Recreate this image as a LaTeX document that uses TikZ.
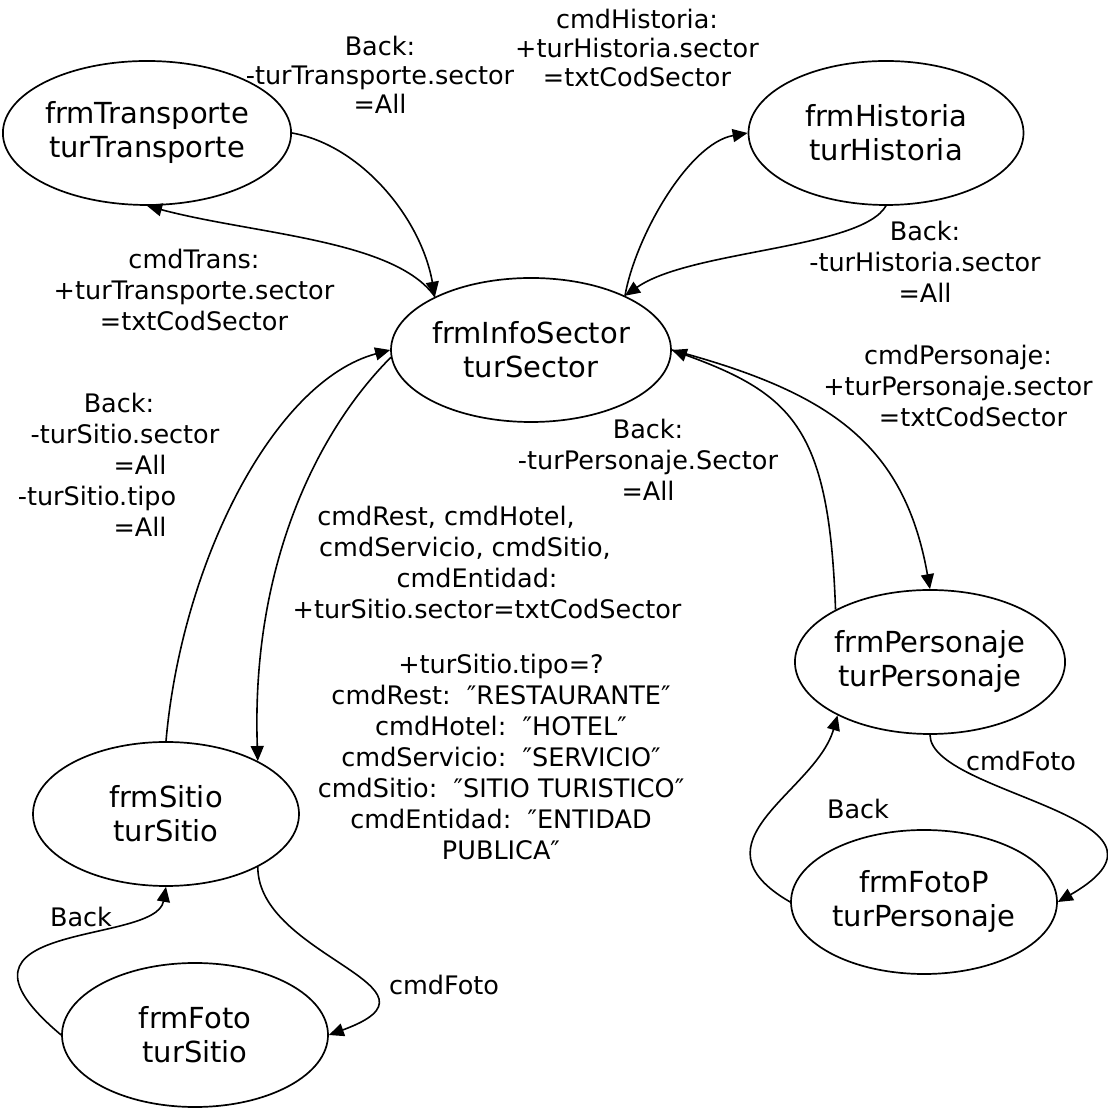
\documentclass[tikz,border=0pt]{standalone}
\usepackage{fontspec}
\setmainfont{DejaVu Sans}
\usetikzlibrary{arrows.meta,shapes.geometric}
% empty box used to nudge a centred line sideways
\newcommand{\padL}[1]{\makebox[#1]{}}
\begin{document}
\begin{tikzpicture}[x=1pt,y=1pt,
  state/.style={draw, ellipse, line width=1.7pt, minimum width=266pt,
    minimum height=144pt, inner sep=0pt, align=center,
    font=\fontsize{29}{34}\selectfont},
  lbl/.style={inner sep=0pt, align=center, font=\fontsize{25.5}{31}\selectfont},
  lbltop/.style={lbl, font=\fontsize{25.5}{29}\selectfont},
  conn/.style={line width=1.6pt, -{Triangle[length=15pt,width=13pt]}},
]
\useasboundingbox (0,0) rectangle (1108,1108);

% forms
\node[state] (tra) at (147,975) {frmTransporte\\turTransporte};
\node[state, minimum width=275pt] (his) at (886,975) {frmHistoria\\turHistoria};
\node[state] (inf) at (531,758) {frmInfoSector\\turSector};
\node[state] (sit) at (166,294) {frmSitio\\turSitio};
\node[state] (fot) at (195,73) {frmFoto\\turSitio};
\node[state] (per) at (930,446) {frmPersonaje\\turPersonaje};
\node[state] (fop) at (924,206) {frmFotoP\\turPersonaje};

% transition labels
\node[lbltop] (lBackTra) at (380,1033) {Back:\\-turTransporte.sector\\=All};
\node[lbltop] (lCmdHis) at (637,1060) {cmdHistoria:\\+turHistoria.sector\\=txtCodSector};
\node[lbl] (lBackHis) at (925,846) {Back:\\-turHistoria.sector\\=All};
\node[lbl] (lCmdTra) at (194,818) {cmdTrans:\\+turTransporte.sector\\=txtCodSector};
\node[lbl] (lCmdPer) at (958,722) {cmdPersonaje:\\+turPersonaje.sector\\\padL{30pt}=txtCodSector};
\node[lbl] (lBackPer) at (648,648) {Back:\\-turPersonaje.Sector\\=All};
\node[lbl] (lBackSit) at (125,643) {Back:\padL{12pt}\\-turSitio.sector\\\padL{30pt}=All\\-turSitio.tipo\padL{56pt}\\\padL{30pt}=All};
\node[lbl] (lCmdRest) at (487,545) {cmdRest, cmdHotel,\padL{82pt}\\cmdServicio, cmdSitio,\padL{44pt}\\cmdEntidad:\padL{20pt}\\+turSitio.sector=txtCodSector};
\node[lbl] (lTipo) at (501,351) {+turSitio.tipo=?\\cmdRest:~~″RESTAURANTE″\\cmdHotel:~~″HOTEL″\\cmdServicio:~~″SERVICIO″\\cmdSitio:~~″SITIO TURISTICO″\\cmdEntidad:~~″ENTIDAD\\PUBLICA″};
\node[lbl] (lBackFot) at (81,191) {Back};
\node[lbl] (lFotoSit) at (444,123) {cmdFoto};
\node[lbl] (lBackFop) at (858,299) {Back};
\node[lbl] (lFotoPer) at (1021,347) {cmdFoto};

% transitions
\draw[conn] (inf.151) to[out=125,in=-15,out distance=70pt,in distance=110pt] (tra.south);
\draw[conn] (tra.east) to[out=-10,in=100,out distance=70pt,in distance=80pt] (inf.151);
\draw[conn] (inf.30) to[out=80,in=190,out distance=60pt,in distance=60pt] (his.west);
\draw[conn] (his.south) to[out=-120,in=35,out distance=50pt,in distance=80pt] (inf.30);
\draw[conn] (inf.east) to[out=-15,in=100,out distance=160pt,in distance=150pt] (per.north);
\draw[conn] (per.151) to[out=92,in=-20,out distance=180pt,in distance=130pt] (inf.east);
\draw[conn] (sit.north) to[out=85,in=195,out distance=180pt,in distance=120pt] (inf.west);
\draw[conn] (inf.183) to[out=225,in=92,out distance=100pt,in distance=200pt] (sit.30);
\draw[conn] (sit.-30) to[out=-90,in=20,out distance=90pt,in distance=140pt] (fot.east);
\draw[conn] (fot.west) to[out=140,in=-100,out distance=180pt,in distance=60pt] (sit.south);
\draw[conn] (per.south) to[out=-90,in=30,out distance=60pt,in distance=170pt] (fop.east);
\draw[conn] (fop.west) to[out=150,in=-106,out distance=120pt,in distance=80pt] (per.210);
\end{tikzpicture}
\end{document}
